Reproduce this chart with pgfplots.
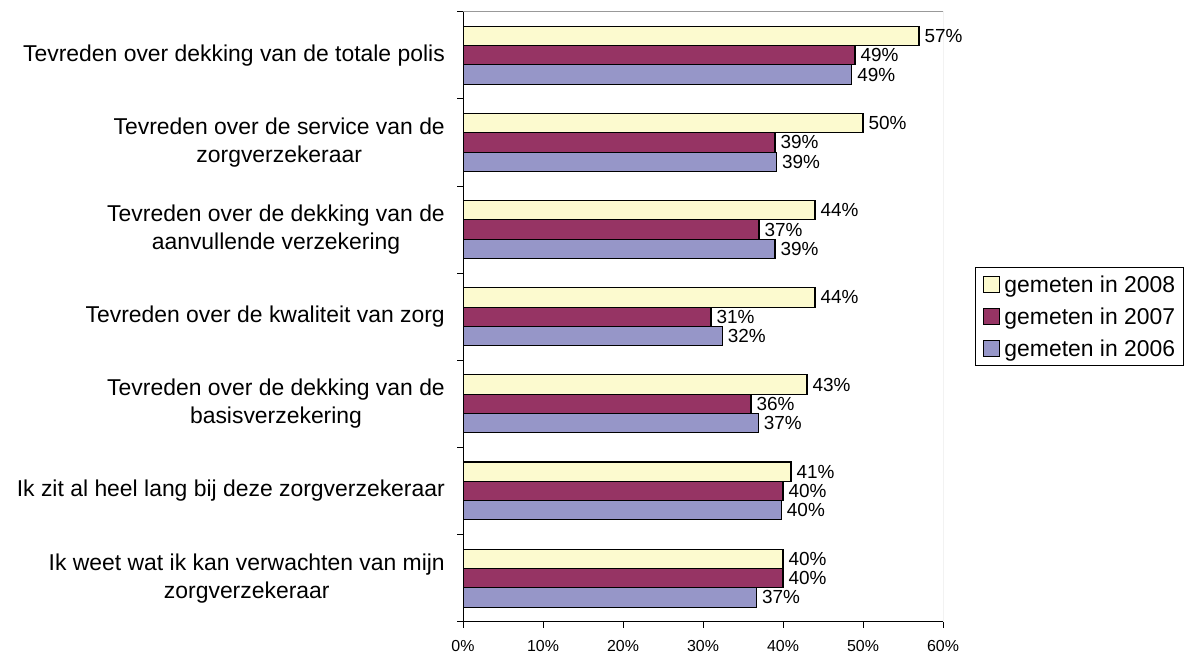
\documentclass[border=0pt]{standalone}
\usepackage{pgfplots}
\pgfplotsset{compat=1.18}
\usepackage{fontspec}
\setmainfont{Liberation Sans}
\definecolor{cA}{HTML}{FCFACF}
\definecolor{cB}{HTML}{963464}
\definecolor{cC}{HTML}{9696C8}
\begin{document}
\begin{tikzpicture}
\useasboundingbox (0,0) rectangle (1185bp,653bp);
\begin{axis}[
  at={(463bp,31.3bp)}, anchor=south west,
  scale only axis, width=480bp, height=610bp,
  /pgf/number format/assume math mode=true,
  xbar, xmin=0, xmax=60, ymin=-0.5, ymax=6.5, y dir=reverse,
  bar width=0.2215,
  axis x line*=bottom, axis y line*=left,
  axis line style={line width=0.9bp, black},
  tick style={line width=0.9bp, black},
  tick align=outside, major tick length=6bp,
  xtick={0,10,...,60},
  xticklabel={\pgfmathprintnumber{\tick}\%},
  xticklabel style={font=\fontsize{16}{16}\selectfont, inner sep=0pt, anchor=north, yshift=-12bp},
  ytick={-0.5,0.5,...,6.5}, yticklabels={},
  extra y ticks={0,1,2,3,4,5,6},
  extra y tick style={major tick length=0pt},
  extra y tick labels={
    {Tevreden over dekking van de totale polis},
    {Tevreden over de service van de\\zorgverzekeraar},
    {Tevreden over de dekking van de\\aanvullende verzekering},
    {Tevreden over de kwaliteit van zorg},
    {Tevreden over de dekking van de\\basisverzekering},
    {Ik zit al heel lang bij deze zorgverzekeraar},
    {Ik weet wat ik kan verwachten van mijn\\zorgverzekeraar}},
  yticklabel style={font=\fontsize{23}{28}\selectfont, align=center, inner sep=0pt, anchor=east, xshift=-18bp},
  point meta=x,
  nodes near coords={\pgfmathprintnumber[fixed,precision=0]{\pgfplotspointmeta}\%},
  nodes near coords style={anchor=west, inner sep=0pt, xshift=5bp, font=\fontsize{19}{19}\selectfont, black},
  every axis plot/.append style={draw=black, line width=1.1bp},
  legend style={at={(axis description cs:1.0667,0.5815)}, anchor=north west,
    draw=black, line width=0.9bp, inner xsep=8bp, inner ysep=8bp, row sep=14bp,
    font=\fontsize{23}{23}\selectfont, nodes={inner sep=0pt}},
  legend cell align=left,
  legend image code/.code={\draw[#1, line width=0.9bp] (0bp,-8bp) rectangle (16bp,8bp); \path (20bp,0bp);},
]
\addplot[fill=cA, bar shift=-0.2215] coordinates {(57.0,0) (50.0,1) (44.0,2) (44.0,3) (43.0,4) (41.0,5) (40.0,6)};
\addplot[fill=cB, bar shift=0] coordinates {(49.0,0) (39.0,1) (37.0,2) (31.0,3) (36.0,4) (40.0,5) (40.0,6)};
\addplot[fill=cC, bar shift=0.2215] coordinates {(48.6,0) (39.2,1) (39.0,2) (32.4,3) (36.9,4) (39.8,5) (36.7,6)};
\legend{gemeten in 2008, gemeten in 2007, gemeten in 2006}
\draw[gray!80, line width=0.9bp] (axis description cs:0,1) -- (axis description cs:1,1) -- (axis description cs:1,0);
\end{axis}
\end{tikzpicture}
\end{document}
